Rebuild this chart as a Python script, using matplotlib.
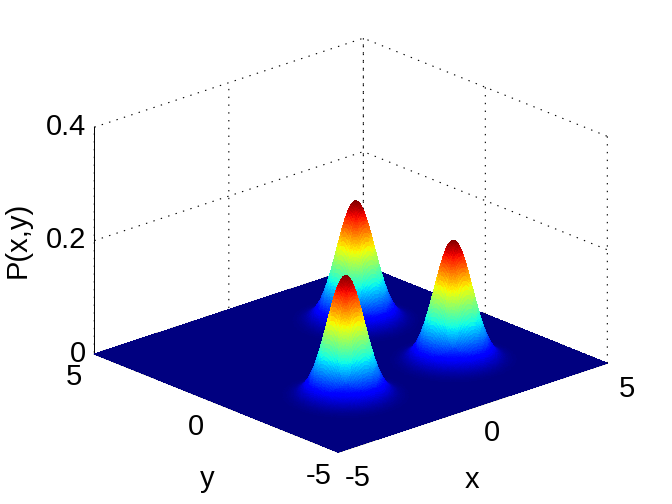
import numpy as np
import matplotlib
matplotlib.use("Agg")
import matplotlib.pyplot as plt

plt.rcParams['font.family'] = ['Liberation Sans', 'DejaVu Sans']
plt.rcParams['font.size'] = 21
plt.rcParams['grid.color'] = 'black'
plt.rcParams['grid.linewidth'] = 0.8
plt.rcParams['lines.scale_dashes'] = False
plt.rcParams['grid.linestyle'] = (0, (1, 4.6))
plt.rcParams['axes.linewidth'] = 0.7

peak_x = [-2.0, 2.0, 2.0]
peak_y = [-2.0, -2.0, 2.0]
peak_height = [0.212, 0.212, 0.212]
peak_sigma = 0.52
x_ticks = [-5, 0, 5]
y_ticks = [-5, 0, 5]
z_ticks = [0, 0.2, 0.4]
x_labels = ['-5', '0', '5']
y_labels = ['-5', '0', '5']
z_labels = ['0', '0.2', '0.4']

xs = np.linspace(-5, 5, 321)
ys = np.linspace(-5, 5, 321)
X, Y = np.meshgrid(xs, ys)
Z = np.zeros_like(X)
for px, py, h in zip(peak_x, peak_y, peak_height):
    Z += h * np.exp(-((X - px)**2 + (Y - py)**2) / (2 * peak_sigma**2))

fig = plt.figure(figsize=(6.72, 5.04), dpi=100, facecolor='white')
ax = fig.add_axes([8 / 672, 0.0, 1.0, 1.0], projection='3d', proj_type='ortho')
ax.view_init(elev=21.4, azim=-132.2)
ax.set_box_aspect((363, 363, 243.5), zoom=1.095)
ax.patch.set_alpha(0)

surf = ax.plot_surface(X, Y, Z, cmap='jet', vmin=0, vmax=Z.max(), rstride=1, cstride=1,
                       linewidth=0, antialiased=False, shade=False)
surf.set_clip_on(False)

ax.set_xlim(-5, 5)
ax.set_ylim(-5, 5)
ax.set_zlim(0, 0.4)
ax.set_xticks(x_ticks)
ax.set_yticks(y_ticks)
ax.set_zticks(z_ticks)
ax.set_xticklabels(x_labels, va='center')
ax.set_yticklabels(y_labels, va='center')
ax.set_zticklabels(z_labels, va='center', ha='right')

for a in (ax.xaxis, ax.yaxis, ax.zaxis):
    a.set_pane_color((1, 1, 1, 0))
    a.pane.set_edgecolor((1, 1, 1, 0))
    a.line.set_linewidth(0.7)
    a.line.set_color('black')
    a._axinfo['tick']['inward_factor'] = 0.0
    a._axinfo['tick']['outward_factor'] = 0.04
    a._axinfo['tick']['linewidth'] = {True: 0.5, False: 0.5}
ax.xaxis.set_tick_params(pad=7)
ax.yaxis.set_tick_params(pad=6)
ax.zaxis.set_tick_params(pad=-5)

fig.text(472 / 672, 1 - 480 / 504, 'x', ha='center', va='center')
fig.text(207 / 672, 1 - 479 / 504, 'y', ha='center', va='center')
fig.text(18 / 672, 1 - 240 / 504, 'P(x,y)', rotation=90, ha='center', va='center')

fig.savefig('out.png', dpi=100)
